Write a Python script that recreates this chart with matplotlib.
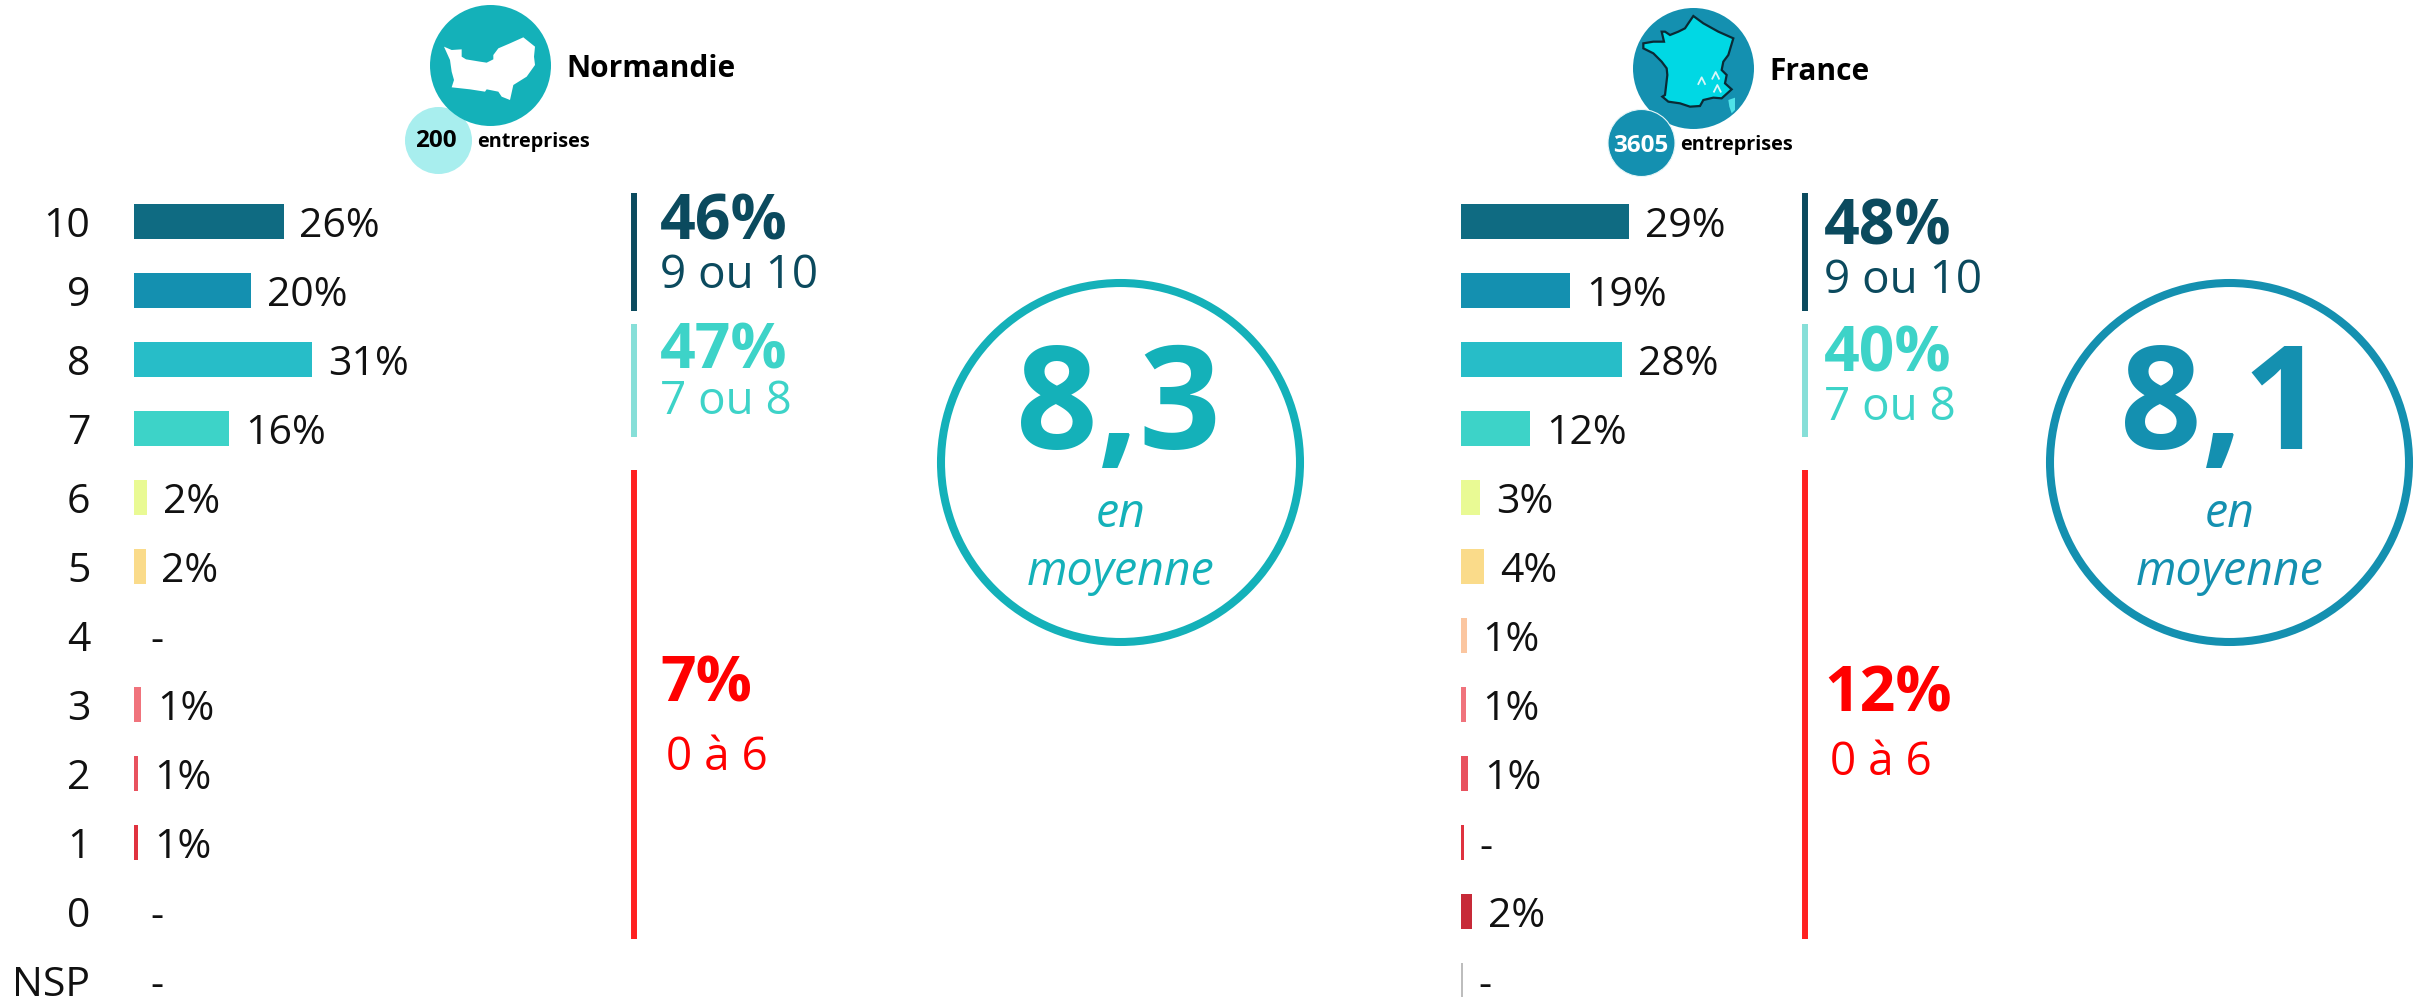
import matplotlib
matplotlib.use("Agg")
import matplotlib.pyplot as plt
from matplotlib.patches import Circle, Polygon

W, H = 2417, 997

categories = ["10", "9", "8", "7", "6", "5", "4", "3", "2", "1", "0", "NSP"]
bar_colors = ["#0f6b82", "#1490b0", "#27bdc8", "#3dd3c8", "#e9fa94", "#fadb8a",
              "#fbc6a0", "#f0737c", "#e8525f", "#e0323f", "#c72a38", "#bdbdbd"]

normandie_values = [26, 20.4, 31, 16.5, 2.2, 2, 0, 1.2, 0.7, 0.7, 0, 0]
normandie_labels = ["26%", "20%", "31%", "16%", "2%", "2%", "-", "1%", "1%", "1%", "-", "-"]
france_values = [29.2, 19, 28, 12, 3.3, 4, 1, 0.9, 1.2, 0.5, 1.9, 0.3]
france_labels = ["29%", "19%", "28%", "12%", "3%", "4%", "1%", "1%", "1%", "-", "2%", "-"]

normandie_groups = ["46%", "47%", "7%"]
france_groups = ["48%", "40%", "12%"]
group_names = ["9 ou 10", "7 ou 8", "0 à 6"]

plt.rcParams["font.family"] = ["Open Sans", "DejaVu Sans"]

fig = plt.figure(figsize=(W / 100, H / 100), dpi=100)
bg = fig.add_axes([0, 0, 1, 1])
bg.set_xlim(0, W)
bg.set_ylim(H, 0)
bg.axis("off")

PX_PER_PCT = 5.75
ROW = 69
FIRST_ROW = 221.5


def bars(x0, values, labels, show_cats):
    top = FIRST_ROW - ROW / 2
    ax = fig.add_axes([x0 / W, 0, 500 / W, (H - top) / H])
    ax.set_xlim(0, 500 / PX_PER_PCT)
    ax.set_ylim((H - FIRST_ROW) / ROW, -0.5)
    y = range(len(categories))
    ax.barh(y, values, height=35 / ROW, color=bar_colors)
    for s in ax.spines.values():
        s.set_visible(False)
    ax.patch.set_alpha(0)
    ax.xaxis.set_visible(False)
    if show_cats:
        ax.set_yticks(list(y), categories, fontsize=29.5, color="#111111")
        ax.tick_params(axis="y", length=0, pad=31.5)
    else:
        ax.set_yticks([])
    for i in y:
        ax.annotate(labels[i], (values[i], i), xytext=(11.5, -4), textcoords="offset points",
                    fontsize=29.5, color="#111111", va="center", ha="left",
                    annotation_clip=False)


bars(134, normandie_values, normandie_labels, True)
bars(1461, france_values, france_labels, False)


def group_block(line_x, text_x, values, y_big, y_small):
    colors = ["#0b4a5e", "#3dd3c8", "#ff0000"]
    line_colors = ["#0b4a5e", "#86dfd8", "#ff2020"]
    spans = [(193, 311), (324, 437), (470, 939)]
    for k in range(3):
        bg.plot([line_x, line_x], spans[k], color=line_colors[k], lw=4.3, solid_capstyle="butt")
        bg.text(text_x, y_big[k], values[k], fontsize=45, fontweight="bold", color=colors[k],
                ha="left", va="center")
        bg.text(text_x + (6 if k == 2 else 0), y_small[k], group_names[k], fontsize=33,
                color=colors[k], ha="left", va="center")


group_block(634, 660, normandie_groups, [223, 352, 685], [276, 402, 758])
group_block(1805, 1824, france_groups, [228, 355, 695], [281, 408, 763])


def mean_circle(cx, text_cx, color, value):
    bg.add_patch(Circle((cx, 462.5), 179.5, fill=False, ec=color, lw=5.8))
    bg.text(text_cx, 449, value, fontsize=103, fontweight="bold", color=color, ha="center", va="baseline")
    bg.text(cx, 527, "en", fontsize=33.5, style="italic", color=color, ha="center", va="baseline")
    bg.text(cx, 585, "moyenne", fontsize=33.5, style="italic", color=color, ha="center", va="baseline")


mean_circle(1120.5, 1118, "#14b1b9", "8,3")
mean_circle(2229.5, 2222, "#1490b0", "8,1")


def icon(points, x0, fc, ec="none", lw=0):
    # outlines traced on the 3x crops, so scale back down
    scaled = [(x0 + px / 3, py / 3) for px, py in points]
    bg.add_patch(Polygon(scaled, closed=True, fc=fc, ec=ec, lw=lw, zorder=3))


# Normandie header
bg.add_patch(Circle((438.5, 140.5), 33.5, color="#a8eeee", lw=0))
bg.add_patch(Circle((490.5, 65.5), 60.5, color="#14b1b9", lw=0))
normandie_shape = [(192, 140), (215, 150), (245, 148), (245, 170), (258, 178), (300, 185), (320, 188),
                   (340, 178), (340, 165), (355, 145), (390, 130), (430, 112), (465, 140), (462, 170),
                   (465, 195), (440, 230), (400, 255), (390, 300), (365, 290), (355, 275), (320, 268),
                   (315, 275), (270, 268), (215, 262), (222, 240), (215, 215), (210, 180)]
icon(normandie_shape, 380, "white")
bg.text(566, 69, "Normandie", fontsize=21.5, fontweight="bold", color="black", ha="left", va="center")
bg.text(435.5, 141, "200", fontsize=17.5, fontweight="bold", color="black", ha="center", va="center")
bg.text(477, 142, "entreprises", fontsize=14.3, fontweight="bold", color="black", ha="left", va="center")

# France header
bg.add_patch(Circle((1693.5, 68.5), 60.5, color="#1490b0", lw=0))
bg.add_patch(Circle((1641.5, 143), 33.5, fc="#1490b0", ec="#e8f6f8", lw=0.8, zorder=2))
france_shape = [(310, 48), (295, 70), (285, 85), (265, 95), (240, 105), (225, 95), (215, 95), (222, 125),
                (190, 125), (160, 130), (160, 145), (190, 160), (215, 185), (230, 205), (232, 225),
                (225, 285), (217, 290), (235, 305), (270, 310), (300, 320), (330, 318), (340, 300),
                (370, 293), (395, 295), (425, 268), (405, 250), (410, 225), (395, 210), (400, 185),
                (415, 165), (430, 115), (385, 95), (340, 70)]
icon(france_shape, 1590, "#00d8e4", "#0a2a35", 1.6)
icon([(415, 300), (435, 293), (435, 330), (425, 340), (418, 320)], 1590, "#4fe3e8")
for mx, my in [(335, 242), (377, 226), (382, 265)]:
    bg.plot([1590 + (mx - 10) / 3, 1590 + mx / 3, 1590 + (mx + 10) / 3],
            [(my + 10) / 3, (my - 10) / 3, (my + 10) / 3], color="#d8f6f8", lw=1.3, zorder=4)
bg.text(1769, 72, "France", fontsize=21.5, fontweight="bold", color="black", ha="left", va="center")
bg.text(1641, 146, "3605", fontsize=17.5, fontweight="bold", color="white", ha="center", va="center", zorder=5)
bg.text(1680, 145, "entreprises", fontsize=14.3, fontweight="bold", color="black", ha="left", va="center")

fig.savefig("out.png", dpi=100, facecolor="white")
